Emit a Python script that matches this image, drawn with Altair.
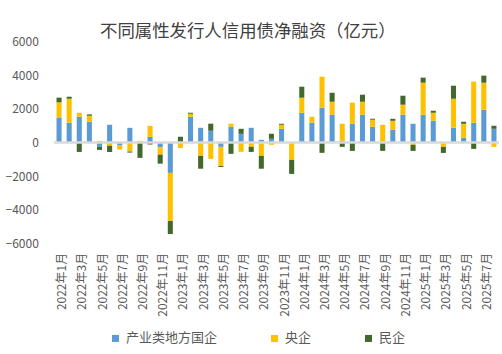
import altair as alt
import pandas as pd

months = [f"{y}年{m}月" for y in (2022, 2023, 2024, 2025) for m in range(1, 13)][:44]
tick_labels = [m for i, m in enumerate(months) if i % 2 == 0]

series = ["产业类地方国企", "央企", "民企"]
colors = ["#5B9BD5", "#FFC000", "#43682B"]

local_soe = [1490, 1175, 1530, 1235, -260, 1055, -180, 875, 0, 335, -290, -1810,
             0, 1530, 875, 700, -260, 935, 515, 875, 160, 220, 815, 0,
             1770, 1175, 2070, 1650, 100, 1115, 1650, 935, 0, 755, 1650, 1115,
             1650, 1295, 0, 875, 280, 1175, 1950, 815]
central_soe = [900, 1430, 240, 360, 100, -200, -240, -540, 100, 655, -430, -2865,
               -320, 180, -795, -975, -1135, 180, -555, -260, -795, -140, 240, -1035,
               895, 360, 1850, 775, 1015, 1255, 775, 420, 1055, 535, 600, -140,
               1910, 475, -260, 1730, 835, 2450, 1610, -260]
private = [280, 120, -560, 80, -180, -360, 0, -60, -915, -120, -540, -775,
           340, 60, -765, 420, -60, -675, 300, -300, -765, 300, 60, -835,
           655, 0, -615, 535, -260, -500, 420, 60, -500, 120, 535, -360,
           300, 120, -360, 775, 120, -380, 420, 180]
y_ticks = [-6000, -4000, -2000, 0, 2000, 4000, 6000]

rows = []
for k, (name, vals) in enumerate(zip(series, [local_soe, central_soe, private])):
    for m, v in zip(months, vals):
        rows.append({"month": m, "series": name, "value": v, "idx": k})
df = pd.DataFrame(rows)

FONT = "Noto Sans CJK SC"

y_axis = alt.Axis(values=y_ticks, format="d", labelOverlap=False, grid=False,
                  domain=False, ticks=False, labelPadding=15.7, labelFontSize=12,
                  labelColor="#595959", labelFont=FONT)
y_scale = alt.Scale(domain=[-6000, 6000], nice=False)

bars = alt.Chart(df).mark_bar().encode(
    x=alt.X("month:N", sort=months, title=None,
            scale=alt.Scale(paddingInner=0.5, paddingOuter=0.25),
            axis=alt.Axis(values=tick_labels, labelAngle=-90, ticks=False, domain=False,
                          labelPadding=9, labelFontSize=12, labelColor="#595959",
                          labelFont=FONT, labelOffset=3)),
    y=alt.Y("value:Q", stack="zero", title=None, scale=y_scale, axis=y_axis),
    color=alt.Color("series:N", scale=alt.Scale(domain=series, range=colors),
                    legend=alt.Legend(title=None, orient="none", direction="horizontal",
                                      legendX=55, legendY=290, symbolType="square",
                                      symbolSize=49, symbolStrokeWidth=0,
                                      labelFontSize=13, labelFont=FONT,
                                      labelColor="#595959", columnPadding=50,
                                      labelOffset=4, padding=0,
                                      labelExpr="datum.label == '央企' ? '央企     ' : datum.label")),
    order=alt.Order("idx:Q"),
)

zero = alt.Chart(pd.DataFrame({"value": [0]})).mark_rule(
    color="#D9D9D9", strokeWidth=2.5
).encode(y=alt.Y("value:Q", title=None, scale=y_scale, axis=y_axis))

chart = alt.layer(bars, zero).properties(
    width=445,
    height=201.6,
    padding={"left": 54, "top": 41.7, "right": 3, "bottom": 110.7},
    autosize=alt.AutoSizeParams(type="none"),
    title=alt.TitleParams("不同属性发行人信用债净融资（亿元）", anchor="start", frame="group",
                          dx=46, fontSize=17.4, font=FONT, fontWeight="normal",
                          color="#404040", offset=-5),
).configure_view(stroke=None).configure_axis(labelOverlap=False)

chart.save("out.html", embed_options={"renderer": "svg", "actions": False})
